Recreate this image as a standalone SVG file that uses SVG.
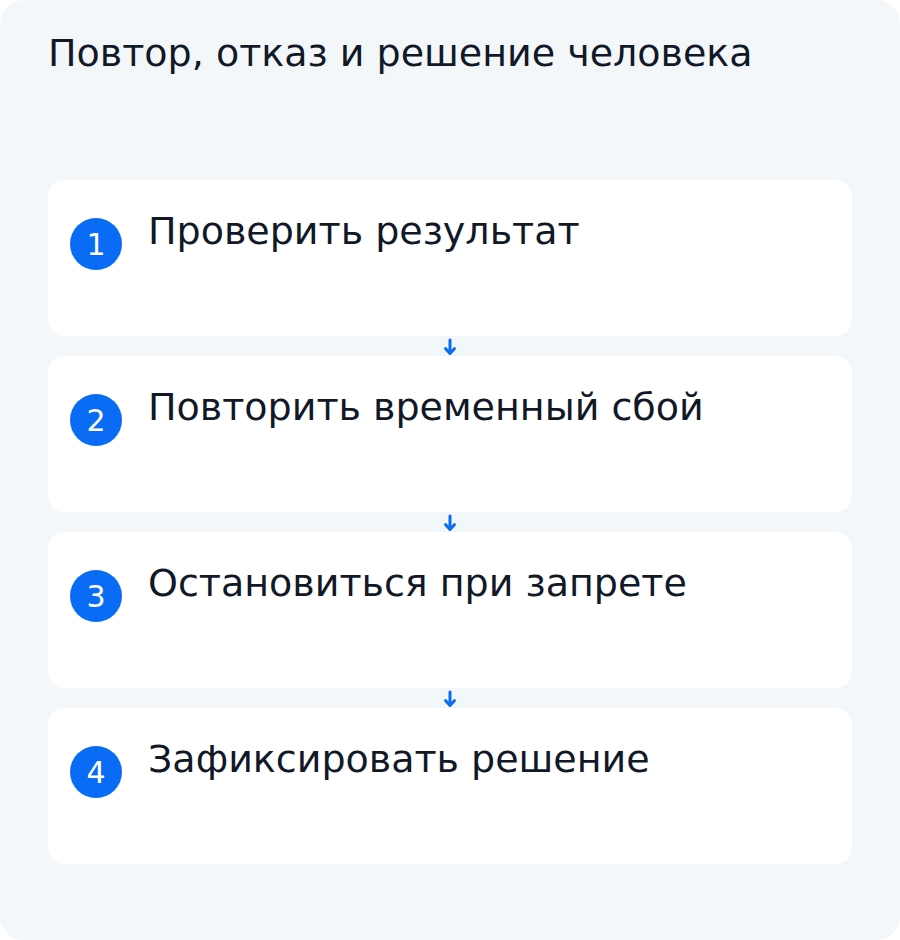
<svg xmlns="http://www.w3.org/2000/svg" width="900" height="940" viewBox="0 0 900 940">
<defs>
<style>
.card{fill:#ffffff}
.badge{fill:#0a6cf5}
.num{font-family:"DejaVu Sans",sans-serif;font-size:30px;fill:#ffffff;text-anchor:middle}
.label{font-family:"DejaVu Sans",sans-serif;font-size:38px;fill:#111827}
.title{font-family:"DejaVu Sans",sans-serif;font-size:38px;fill:#111827}
.conn{stroke:#0a6cf5;stroke-width:3;fill:none;stroke-linecap:round}
.head{fill:none;stroke:#0a6cf5;stroke-width:3;stroke-linejoin:round;stroke-linecap:round}
</style>
</defs>
<rect x="0" y="0" width="900" height="940" rx="24" fill="#f3f7fa"/>
<text class="title" x="48" y="66">Повтор, отказ и решение человека</text>
<g id="connectors">
<line class="conn" x1="450" y1="340" x2="450" y2="353"/>
<path class="head" d="M445.5,348.5 L450,353.5 L454.5,348.5"/>
<line class="conn" x1="450" y1="516" x2="450" y2="529"/>
<path class="head" d="M445.5,524.5 L450,529.5 L454.5,524.5"/>
<line class="conn" x1="450" y1="692" x2="450" y2="705"/>
<path class="head" d="M445.5,700.5 L450,705.5 L454.5,700.5"/>
</g>
<g id="step1">
<rect class="card" x="48" y="180" width="804" height="156" rx="16"/>
<circle class="badge" cx="96" cy="244" r="26"/>
<text class="num" x="96" y="255">1</text>
<text class="label" x="148" y="244">Проверить результат</text>
</g>
<g id="step2">
<rect class="card" x="48" y="356" width="804" height="156" rx="16"/>
<circle class="badge" cx="96" cy="420" r="26"/>
<text class="num" x="96" y="431">2</text>
<text class="label" x="148" y="420">Повторить временный сбой</text>
</g>
<g id="step3">
<rect class="card" x="48" y="532" width="804" height="156" rx="16"/>
<circle class="badge" cx="96" cy="596" r="26"/>
<text class="num" x="96" y="607">3</text>
<text class="label" x="148" y="596">Остановиться при запрете</text>
</g>
<g id="step4">
<rect class="card" x="48" y="708" width="804" height="156" rx="16"/>
<circle class="badge" cx="96" cy="772" r="26"/>
<text class="num" x="96" y="783">4</text>
<text class="label" x="148" y="772">Зафиксировать решение</text>
</g>
</svg>
